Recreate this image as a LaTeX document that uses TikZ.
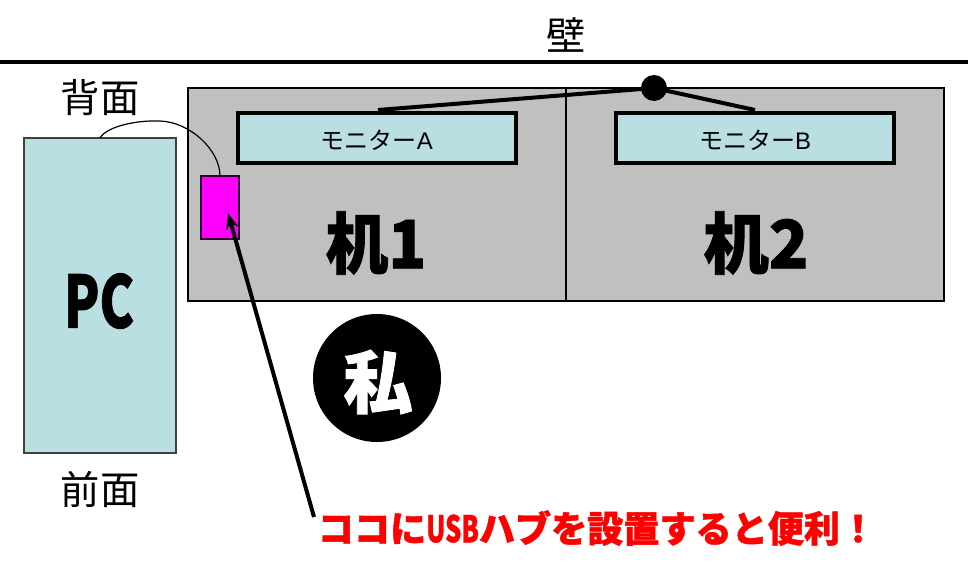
\documentclass[tikz,border=0pt]{standalone}
\usepackage{fontspec}
\usepackage{graphicx}
\setmainfont{Noto Sans CJK JP}
\newfontfamily\jpbold{Noto Sans CJK JP}[BoldFont={Noto Sans CJK JP Black},BoldFeatures={FakeBold=1.2}]
\newfontfamily\latin{Liberation Sans}
\usetikzlibrary{arrows.meta}
\definecolor{lightblue}{HTML}{BADFE3}
\definecolor{desk}{HTML}{C0C0C0}
\definecolor{hubpink}{RGB}{255,0,255}
\definecolor{notered}{RGB}{255,0,0}
\tikzset{
  box/.style={anchor=north west,inner sep=0pt,outer sep=0pt},
  deskbox/.style={box,draw=black,line width=1.1pt,fill=desk,minimum width=283.5pt,minimum height=159.75pt},
  monitor/.style={box,draw=black,line width=3pt,fill=lightblue,minimum width=208.5pt,minimum height=37.5pt},
  wire/.style={line width=3pt,black},
  caption/.style={inner sep=0pt,font=\fontsize{29.5}{30}\selectfont},
  monlabel/.style={inner sep=0pt,font=\fontsize{18}{18}\selectfont},
  heavy/.style={inner sep=0pt,font=\jpbold\bfseries}
}
\begin{document}
\begin{tikzpicture}[x=0.75pt,y=-0.75pt]
\useasboundingbox (0,0) rectangle (968,575);
\fill[white] (0,0) rectangle (968,575);
\coordinate (wallL) at (0,62);
\coordinate (wallR) at (968,62);
\draw[line width=3pt] (wallL) -- (wallR);
\node[caption] (wall) at (566,35) {壁};
\node[deskbox] (desk1) at (188,88) {};
\node[deskbox] (desk2) at (566,88) {};
\node[monitor] (monA) at (238,113) {};
\node[monitor] (monB) at (615.5,113) {};
\node[monlabel] (labA) at (377,140) {モニター\latin A};
\node[monlabel] (labB) at (755,140) {モニター\latin B};
\node[circle,fill=black,minimum size=19.5pt,inner sep=0pt] (arm) at (654,88) {};
\coordinate (armA) at (378,110);
\coordinate (armB) at (755,110);
\draw[wire] (armA) -- (arm.center);
\draw[wire] (armB) -- (arm.center);
\node[box,draw=black!75,line width=1.1pt,fill=lightblue,minimum width=114pt,minimum height=236.25pt] (pc) at (24,138) {};
\node[box,draw=black!80!hubpink,line width=1.2pt,fill=hubpink,minimum width=28.5pt,minimum height=47.25pt] (hub) at (201,176) {};
\draw[black,line width=0.9pt] (pc.north) .. controls +(7,-12) and (138,120) .. (160,121) .. controls (190,122) and (220,150) .. (hub.north);
\node[caption] (back) at (100,98) {背面};
\node[caption] (front) at (100,489) {前面};
\node[heavy] (pclabel) at (99,301) {\scalebox{0.72}[1]{\fontsize{54}{54}\selectfont PC}};
\node[heavy] (d1) at (376,243) {\scalebox{0.94}[1]{\fontsize{50}{50}\selectfont 机1}};
\node[heavy] (d2) at (756,243) {\scalebox{0.98}[1]{\fontsize{50}{50}\selectfont 机2}};
\node[circle,fill=black,minimum size=96pt,inner sep=0pt] (me) at (377,378) {};
\node[heavy,text=white] (melabel) at (378,382) {\scalebox{1.02}[1]{\fontsize{51}{51}\selectfont 私}};
\node[heavy,text=notered] (note) at (597,528) {\scalebox{0.985}[1]{\fontsize{27.5}{28}\selectfont ココに\scalebox{0.7}[1]{USB}ハブを設置すると便利！}};
\coordinate (noteTail) at (314,517);
\draw[-{Stealth[length=12pt,width=9.5pt]},wire] (noteTail) -- (228,213);
\end{tikzpicture}
\end{document}
